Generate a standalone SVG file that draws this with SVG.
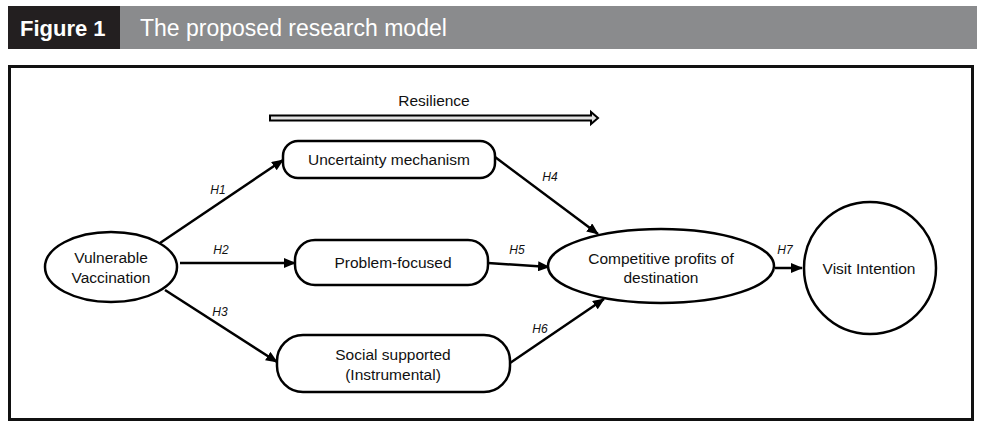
<svg xmlns="http://www.w3.org/2000/svg" width="981" height="425" viewBox="0 0 981 425">
<style>
.node{fill:#fff;stroke:#000;stroke-width:2.5}
.t{font-family:"Liberation Sans",Arial,sans-serif;font-size:15.5px;fill:#111;text-anchor:middle}
.h{font-family:"Liberation Sans",Arial,sans-serif;font-size:12px;font-style:italic;fill:#111;text-anchor:middle}
.e{stroke:#000;stroke-width:2.5;fill:none;marker-end:url(#ah)}
</style>
<defs>
<marker id="ah" markerWidth="12" markerHeight="10" refX="11" refY="5" orient="auto" markerUnits="userSpaceOnUse">
<path d="M0,0 L12,5 L0,10 Z" fill="#000"/>
</marker>
</defs>
<rect width="981" height="425" fill="#fff"/>
<g id="header">
<rect x="120" y="6" width="857" height="43" fill="#8a8b8d"/>
<rect x="8" y="6" width="112" height="43" fill="#231f20"/>
<text x="20" y="36" font-family="Liberation Sans,Arial,sans-serif" font-size="22" font-weight="bold" fill="#fff">Figure 1</text>
<text x="140" y="36" font-family="Liberation Sans,Arial,sans-serif" font-size="23" fill="#fff">The proposed research model</text>
</g>
<rect id="frame" x="9.5" y="66.5" width="963" height="353" fill="none" stroke="#111" stroke-width="3"/>
<g id="resilience">
<path d="M270,115.5 L591,115.5 L591,112 L598,118 L591,124 L591,120.5 L270,120.5 Z" fill="#e2e2e2" stroke="#000" stroke-width="2" stroke-linejoin="miter"/>
<text class="t" x="434" y="106">Resilience</text>
</g>
<g id="connectors">
<line class="e" x1="160" y1="243" x2="283" y2="160"/>
<line class="e" x1="180" y1="263" x2="295" y2="263"/>
<line class="e" x1="165" y1="290" x2="277" y2="362"/>
<line class="e" x1="495" y1="157" x2="598" y2="234"/>
<line class="e" x1="488" y1="263" x2="549" y2="267"/>
<line class="e" x1="510" y1="363" x2="604" y2="299"/>
<line class="e" x1="775" y1="268" x2="802" y2="268"/>
<text class="h" x="218" y="194">H1</text>
<text class="h" x="221" y="254">H2</text>
<text class="h" x="220" y="316">H3</text>
<text class="h" x="550" y="181">H4</text>
<text class="h" x="517" y="254">H5</text>
<text class="h" x="540" y="333">H6</text>
<text class="h" x="785" y="254">H7</text>
</g>
<g id="vulnerable">
<ellipse class="node" cx="111" cy="267" rx="66" ry="35"/>
<text class="t" x="111" y="263">Vulnerable</text>
<text class="t" x="111" y="283">Vaccination</text>
</g>
<g id="uncertainty">
<rect class="node" x="283" y="141" width="212" height="37" rx="15"/>
<text class="t" x="389" y="165">Uncertainty mechanism</text>
</g>
<g id="problem">
<rect class="node" x="295" y="240" width="193" height="45" rx="20"/>
<text class="t" x="393" y="268">Problem-focused</text>
</g>
<g id="social">
<rect class="node" x="277" y="335" width="233" height="57" rx="26"/>
<text class="t" x="393" y="360">Social supported</text>
<text class="t" x="393" y="380">(Instrumental)</text>
</g>
<g id="competitive">
<ellipse class="node" cx="661" cy="266" rx="113" ry="37"/>
<text class="t" x="661" y="264">Competitive profits of</text>
<text class="t" x="661" y="283">destination</text>
</g>
<g id="visit">
<circle class="node" cx="870" cy="268" r="66"/>
<text class="t" x="869" y="274">Visit Intention</text>
</g>
</svg>
